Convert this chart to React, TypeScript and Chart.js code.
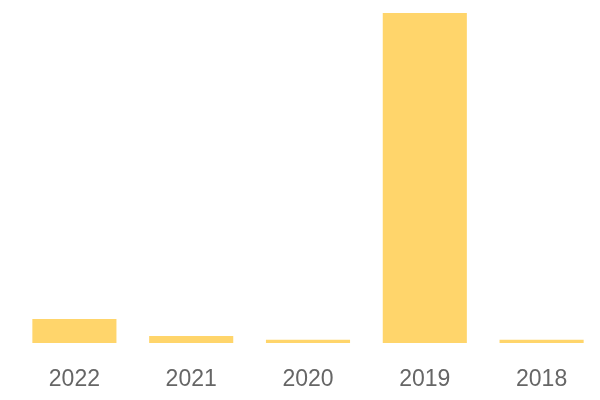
import React, { useEffect, useRef } from "react";
import { Chart, registerables } from "chart.js";

Chart.register(...registerables);

const categories = ["2022", "2021", "2020", "2019", "2018"];
const values = [73, 21, 10, 1000, 10];

export default function App() {
  const ref = useRef<HTMLCanvasElement | null>(null);
  useEffect(() => {
    document.body.style.margin = "0";
    const chart = new Chart(ref.current!, {
      type: "bar",
      data: {
        labels: categories,
        datasets: [
          {
            data: values,
            backgroundColor: "#FFD56B",
            borderWidth: 0,
          },
        ],
      },
      options: {
        animation: false,
        responsive: false,
        maintainAspectRatio: false,
        layout: { padding: { left: 16, right: 0, top: 13, bottom: 0 } },
        plugins: { legend: { display: false }, tooltip: { enabled: false } },
        scales: {
          x: {
            grid: { display: false },
            border: { display: false },
            ticks: {
              color: "#666666",
              font: { family: "Liberation Sans", size: 23 },
              padding: 15,
            },
            afterFit: (scale: any) => {
              scale.height = 57;
            },
          },
          y: { display: false, min: 0, max: 1000 },
        },
      },
    });
    return () => chart.destroy();
  }, []);
  return (
    <div style={{ width: 600, height: 400 }}>
      <canvas ref={ref} width={600} height={400} />
    </div>
  );
}
